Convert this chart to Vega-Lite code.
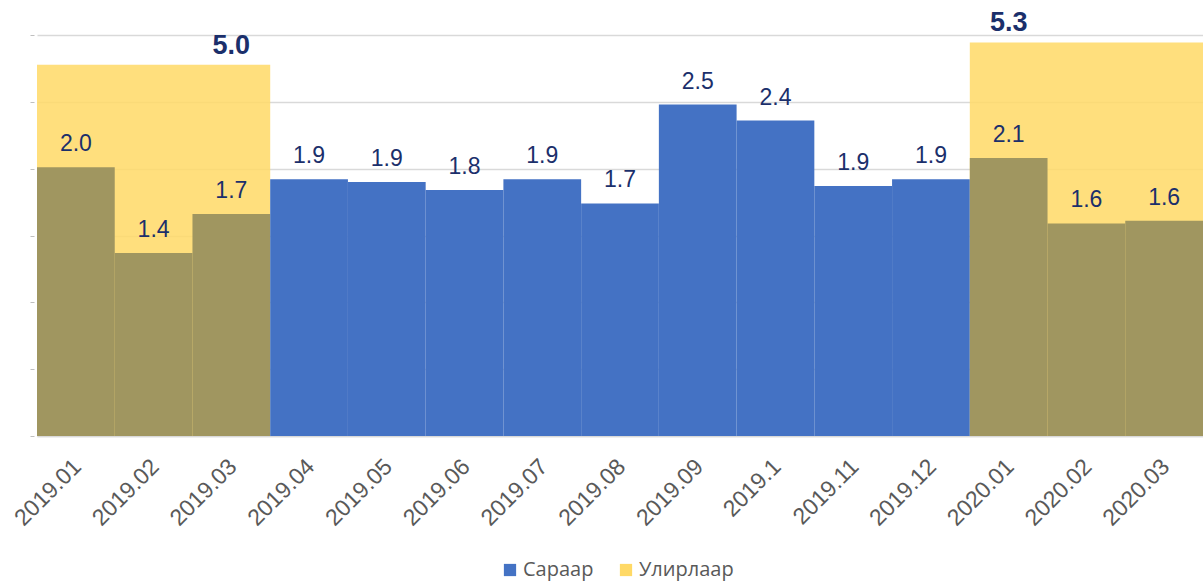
{
  "$schema": "https://vega.github.io/schema/vega-lite/v6.json",
  "width": 1166,
  "height": 401,
  "autosize": {"type": "none"},
  "padding": {"left": 37, "top": 35, "right": 0, "bottom": 145},
  "background": "white",
  "config": {
    "view": {"stroke": null},
    "font": "Liberation Sans"
  },
  "datasets": {
    "monthly": [
      {"month": "2019.01", "value": 2.01, "series": "Сараар"},
      {"month": "2019.02", "value": 1.37, "series": "Сараар"},
      {"month": "2019.03", "value": 1.66, "series": "Сараар"},
      {"month": "2019.04", "value": 1.92, "series": "Сараар"},
      {"month": "2019.05", "value": 1.90, "series": "Сараар"},
      {"month": "2019.06", "value": 1.84, "series": "Сараар"},
      {"month": "2019.07", "value": 1.92, "series": "Сараар"},
      {"month": "2019.08", "value": 1.74, "series": "Сараар"},
      {"month": "2019.09", "value": 2.48, "series": "Сараар"},
      {"month": "2019.1", "value": 2.36, "series": "Сараар"},
      {"month": "2019.11", "value": 1.87, "series": "Сараар"},
      {"month": "2019.12", "value": 1.92, "series": "Сараар"},
      {"month": "2020.01", "value": 2.08, "series": "Сараар"},
      {"month": "2020.02", "value": 1.59, "series": "Сараар"},
      {"month": "2020.03", "value": 1.61, "series": "Сараар"}
    ],
    "quarterly": [
      {"quarter": "2019 I", "mid": "2019.02", "labelAt": "2019.03", "value": 5.0, "series": "Улирлаар"},
      {"quarter": "2020 I", "mid": "2020.02", "labelAt": "2020.01", "value": 5.3, "series": "Улирлаар"}
    ]
  },
  "layer": [
    {
      "data": {"name": "monthly"},
      "mark": {"type": "bar", "opacity": 0},
      "encoding": {
        "x": {
          "field": "month", "type": "nominal", "sort": null,
          "scale": {"paddingInner": 0, "paddingOuter": 0,
            "domain": ["2019.01","2019.02","2019.03","2019.04","2019.05","2019.06","2019.07","2019.08","2019.09","2019.1","2019.11","2019.12","2020.01","2020.02","2020.03"]},
          "axis": {
            "title": null, "labelAngle": -45, "labelFontSize": 23, "labelColor": "#595959",
            "labelFont": "Liberation Sans", "ticks": false, "domainColor": "#D9D9D9", "domainWidth": 1.5,
            "labelPadding": 19, "labelOffset": -6
          }
        },
        "y": {
          "field": "value", "type": "quantitative",
          "scale": {"domain": [0, 3], "nice": false},
          "axis": {"title": null, "labels": false, "domain": false, "values": [0, 0.5, 1, 1.5, 2, 2.5, 3],
            "grid": true, "gridColor": "#D9D9D9", "gridWidth": 1.5, "tickColor": "#BFBFBF", "tickSize": 4, "offset": 3}
        }
      }
    },
    {
      "data": {"name": "quarterly"},
      "mark": {"type": "bar", "width": {"band": 3}, "opacity": 0.85},
      "encoding": {
        "x": {"field": "mid", "type": "nominal", "sort": null},
        "y": {"field": "value", "type": "quantitative", "scale": {"domain": [0, 5.4], "nice": false}, "axis": null},
        "color": {
          "field": "series", "type": "nominal",
          "scale": {"domain": ["Сараар", "Улирлаар"], "range": ["#4472C4", "#FFD966"]},
          "legend": {
            "title": null, "orient": "none", "legendX": 463, "legendY": 525, "direction": "horizontal",
            "padding": 0, "symbolType": "square", "symbolSize": 150, "symbolOpacity": 1,
            "labelFontSize": 20, "labelColor": "#595959", "labelFont": "Open Sans", "labelOffset": 3,
            "columnPadding": 22
          }
        }
      }
    },
    {
      "data": {"name": "monthly"},
      "mark": {"type": "bar"},
      "encoding": {
        "x": {"field": "month", "type": "nominal", "sort": null},
        "y": {"field": "value", "type": "quantitative", "scale": {"domain": [0, 3], "nice": false}, "axis": null},
        "color": {
          "condition": {"test": {"field": "month", "oneOf": ["2019.01","2019.02","2019.03","2020.01","2020.02","2020.03"]}, "value": "#A09660"},
          "field": "series", "type": "nominal"
        }
      }
    },
    {
      "data": {"name": "monthly"},
      "mark": {"type": "text", "fontSize": 23, "color": "#1B2F6B", "baseline": "alphabetic", "dy": -16, "font": "Liberation Sans"},
      "encoding": {
        "x": {"field": "month", "type": "nominal", "sort": null},
        "y": {"field": "value", "type": "quantitative", "scale": {"domain": [0, 3], "nice": false}, "axis": null},
        "text": {"field": "value", "type": "quantitative", "format": ".1f"}
      }
    },
    {
      "data": {"name": "quarterly"},
      "mark": {"type": "text", "fontSize": 27, "fontWeight": "bold", "color": "#1B2F6B", "baseline": "alphabetic", "dy": -11, "font": "Liberation Sans"},
      "encoding": {
        "x": {"field": "labelAt", "type": "nominal", "sort": null},
        "y": {"field": "value", "type": "quantitative", "scale": {"domain": [0, 5.4], "nice": false}, "axis": null},
        "text": {"field": "value", "type": "quantitative", "format": ".1f"}
      }
    }
  ],
  "resolve": {"scale": {"y": "independent"}}
}
